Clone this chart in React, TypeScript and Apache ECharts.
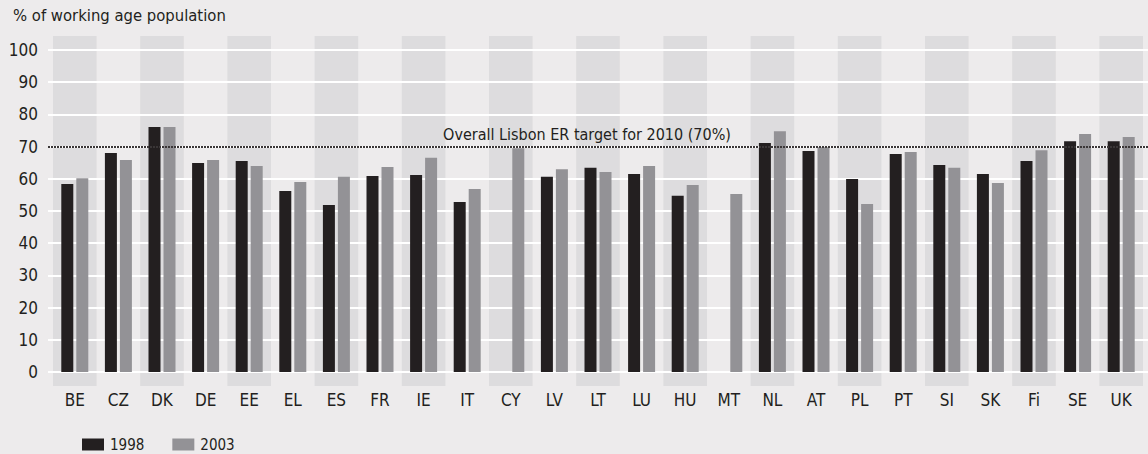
import React, { useEffect, useRef } from "react";
import * as echarts from "echarts";

const categories = ["BE","CZ","DK","DE","EE","EL","ES","FR","IE","IT","CY","LV","LT","LU","HU","MT","NL","AT","PL","PT","SI","SK","Fi","SE","UK"];
const values1998 = [58.4,68.0,76.1,64.9,65.5,56.2,51.9,60.9,61.2,52.8,null,60.6,63.4,61.5,54.7,null,71.1,68.6,59.9,67.7,64.3,61.5,65.5,71.7,71.7];
const values2003 = [60.2,65.8,76.1,65.8,64.0,59.0,60.6,63.7,66.5,56.8,69.5,63.0,62.1,64.0,58.1,55.3,74.8,69.8,52.2,68.3,63.4,58.7,68.9,73.9,73.0];
const yTicks = [0,10,20,30,40,50,60,70,80,90,100];
const targetValue = 70;
const targetLabel = "Overall Lisbon ER target for 2010 (70%)";
const yTitle = "% of working age population";
const seriesNames = ["1998", "2003"];

const FONT = "'Liberation Sans Narrow', 'DejaVu Sans Condensed', 'Roboto', sans-serif";
const TXT = "#231f20";

export default function App() {
  const ref = useRef<HTMLDivElement>(null);
  useEffect(() => {
    if (!ref.current) return;
    const chart = echarts.init(ref.current, null, { renderer: "svg" });
    const pad = 14 / 3.22; // band overhang in value units
    chart.setOption({
      animation: false,
      backgroundColor: "#edebec",
      textStyle: { fontFamily: FONT },
      grid: [
        { left: 48, right: 0, top: 50, bottom: 82 },
        { left: 53, right: 5, top: 36, bottom: 68 },
      ],
      legend: {
        left: 82,
        top: 437,
        padding: 0,
        itemWidth: 22,
        itemHeight: 12,
        itemGap: 28,
        icon: "rect",
        textStyle: { fontFamily: FONT, fontSize: 15, lineHeight: 13, color: TXT, padding: [0, 0, 0, 1] },
        data: seriesNames,
      },
      graphic: [
        {
          type: "text",
          left: 13,
          top: 7,
          style: { text: yTitle, fontFamily: FONT, fontSize: 16.5, fill: TXT },
        },
      ],
      xAxis: [
        { gridIndex: 0, type: "category", data: categories, show: false },
        {
          gridIndex: 1,
          type: "category",
          data: categories,
          z: 0,
          axisLine: { show: false },
          axisTick: { show: false },
          axisLabel: { fontFamily: FONT, fontSize: 17, color: TXT, margin: 5, interval: 0 },
          splitArea: {
            show: true,
            interval: 0,
            areaStyle: { color: ["#dddcde", "rgba(0,0,0,0)"] },
          },
        },
      ],
      yAxis: [
        {
          gridIndex: 0,
          type: "value",
          min: 0,
          max: 100,
          interval: 10,
          z: 1,
          axisLine: { show: false },
          axisTick: { show: false },
          axisLabel: {
            fontFamily: FONT,
            fontSize: 17,
            color: TXT,
            margin: 10,
            customValues: yTicks,
          },
          splitLine: { show: true, lineStyle: { color: "#ffffff", width: 2 } },
        },
        {
          gridIndex: 1,
          type: "value",
          min: -pad,
          max: 100 + pad,
          show: false,
          splitLine: { show: false },
        },
      ],
      series: [
        {
          name: seriesNames[0],
          type: "bar",
          xAxisIndex: 1,
          yAxisIndex: 1,
          data: values1998,
          barWidth: 12,
          barGap: "25%",
          itemStyle: { color: "#231f20" },
          z: 3,
        },
        {
          name: seriesNames[1],
          type: "bar",
          xAxisIndex: 1,
          yAxisIndex: 1,
          data: values2003,
          barWidth: 12,
          barGap: "25%",
          itemStyle: { color: "#939296" },
          z: 3,
        },
        {
          name: "target",
          type: "line",
          xAxisIndex: 0,
          yAxisIndex: 0,
          data: [],
          z: 5,
          markLine: {
            symbol: "none",
            silent: true,
            lineStyle: { color: "#3a3637", width: 2, type: [2, 1] },
            label: {
              show: true,
              position: "insideMiddleTop",
              formatter: targetLabel,
              fontFamily: FONT,
              fontSize: 16,
              color: TXT,
              distance: 4,
              offset: [-11, 0],
            },
            data: [{ yAxis: targetValue }],
          },
        },
      ],
    });
    return () => chart.dispose();
  }, []);
  return (
    <div
      ref={ref}
      style={{ position: "absolute", left: 0, top: 0, width: 1148, height: 454 }}
    />
  );
}
